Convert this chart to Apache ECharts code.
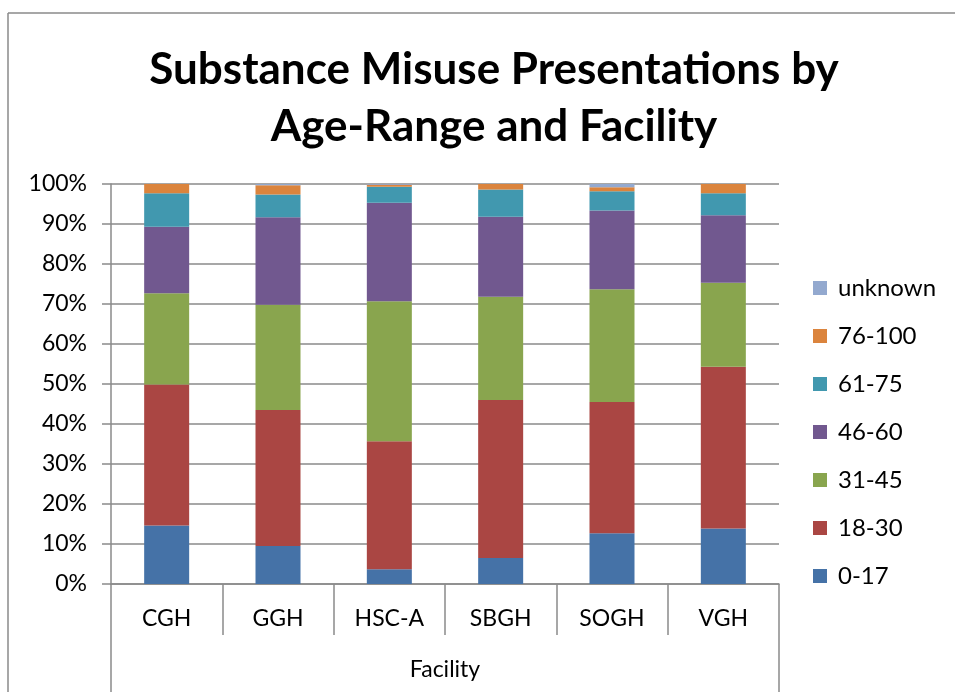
<!DOCTYPE html>
<html>
<head>
<meta charset="utf-8">
<script src="https://cdn.jsdelivr.net/npm/echarts@6/dist/echarts.min.js"></script>
<style>
  html, body { margin: 0; padding: 0; background: #fff; overflow: hidden; }
  #main { width: 955px; height: 692px; }
</style>
</head>
<body>
<div id="main"></div>
<script>
// 数据：各机构按年龄段的百分比
var facilities = ['CGH', 'GGH', 'HSC-A', 'SBGH', 'SOGH', 'VGH'];
var ageRanges = ['0-17', '18-30', '31-45', '46-60', '61-75', '76-100', 'unknown'];
var age0_17   = [14.6,  9.5,  3.7,  6.5, 12.7, 13.9];
var age18_30  = [35.3, 34.0, 32.0, 39.5, 32.8, 40.4];
var age31_45  = [22.8, 26.3, 35.0, 25.8, 28.2, 21.0];
var age46_60  = [16.6, 21.9, 24.6, 20.0, 19.7, 16.9];
var age61_75  = [ 8.4,  5.7,  4.0,  6.8,  4.8,  5.5];
var age76_100 = [ 2.3,  2.3,  0.5,  1.4,  1.0,  2.3];
var ageUnknown = [0.0,  0.3,  0.2,  0.0,  0.8,  0.0];
var yTicks = [0, 10, 20, 30, 40, 50, 60, 70, 80, 90, 100];

var seriesValues = [age0_17, age18_30, age31_45, age46_60, age61_75, age76_100, ageUnknown];
var colors = ['#4572A7', '#AA4643', '#89A54E', '#71588F', '#4198AF', '#DB843D', '#93A9CF'];
var fontName = 'Lato';
var gridGray = '#8a8a8a';

var myChart = echarts.init(document.getElementById('main'));

var series = ageRanges.map(function (name, i) {
    return {
        name: name,
        type: 'bar',
        stack: 'total',
        barWidth: 45,
        data: seriesValues[i],
        itemStyle: { color: colors[i] }
    };
});

var option = {
    animation: false,
    textStyle: { fontFamily: fontName },
    title: {
        text: 'Substance Misuse Presentations by\nAge-Range and Facility',
        left: 489,
        top: 36,
        textAlign: 'center',
        textStyle: {
            fontFamily: fontName,
            fontSize: 44,
            fontWeight: 'bold',
            color: '#000',
            lineHeight: 57
        }
    },
    legend: {
        orient: 'vertical',
        left: 808,
        top: 271,
        itemWidth: 14,
        itemHeight: 14,
        itemGap: 24,
        icon: 'rect',
        data: ageRanges.slice().reverse(),
        textStyle: { fontFamily: fontName, fontSize: 24, color: '#000', lineHeight: 24, padding: [0, 0, 0, 6] }
    },
    grid: { left: 111, right: 176, top: 184, bottom: 108, containLabel: false },
    xAxis: [{
        type: 'category',
        data: facilities,
        axisLine: { lineStyle: { color: gridGray, width: 1.5 } },
        axisTick: { show: true, length: 51, interval: 0, lineStyle: { color: gridGray, width: 1.5 } },
        axisLabel: { margin: 23, fontSize: 23, color: '#000', fontFamily: fontName }
    }, {
        type: 'category',
        data: ['Facility'],
        position: 'bottom',
        axisLine: { show: false },
        axisTick: { show: true, length: 110, lineStyle: { color: gridGray, width: 1.5 } },
        axisLabel: { margin: 74, fontSize: 23, color: '#000', fontFamily: fontName }
    }],
    yAxis: {
        type: 'value',
        min: 0,
        max: 100,
        interval: 10,
        axisLine: { show: true, lineStyle: { color: gridGray, width: 1.5 } },
        axisTick: { show: true, length: 9, lineStyle: { color: gridGray, width: 1.5 } },
        splitLine: { lineStyle: { color: gridGray, width: 1.5 } },
        axisLabel: {
            margin: 24,
            fontSize: 23,
            color: '#000',
            fontFamily: fontName,
            formatter: function (v) { return yTicks.indexOf(v) >= 0 ? v + '%' : ''; }
        }
    },
    // 外框（只有左边和上边可见）
    graphic: [{
        type: 'line',
        shape: { x1: 8, y1: 13, x2: 8, y2: 700 },
        style: { stroke: gridGray, lineWidth: 1.5 },
        silent: true
    }, {
        type: 'line',
        shape: { x1: 8, y1: 13, x2: 960, y2: 13 },
        style: { stroke: gridGray, lineWidth: 1.5 },
        silent: true
    }],
    series: series
};

myChart.setOption(option);
</script>
</body>
</html>
